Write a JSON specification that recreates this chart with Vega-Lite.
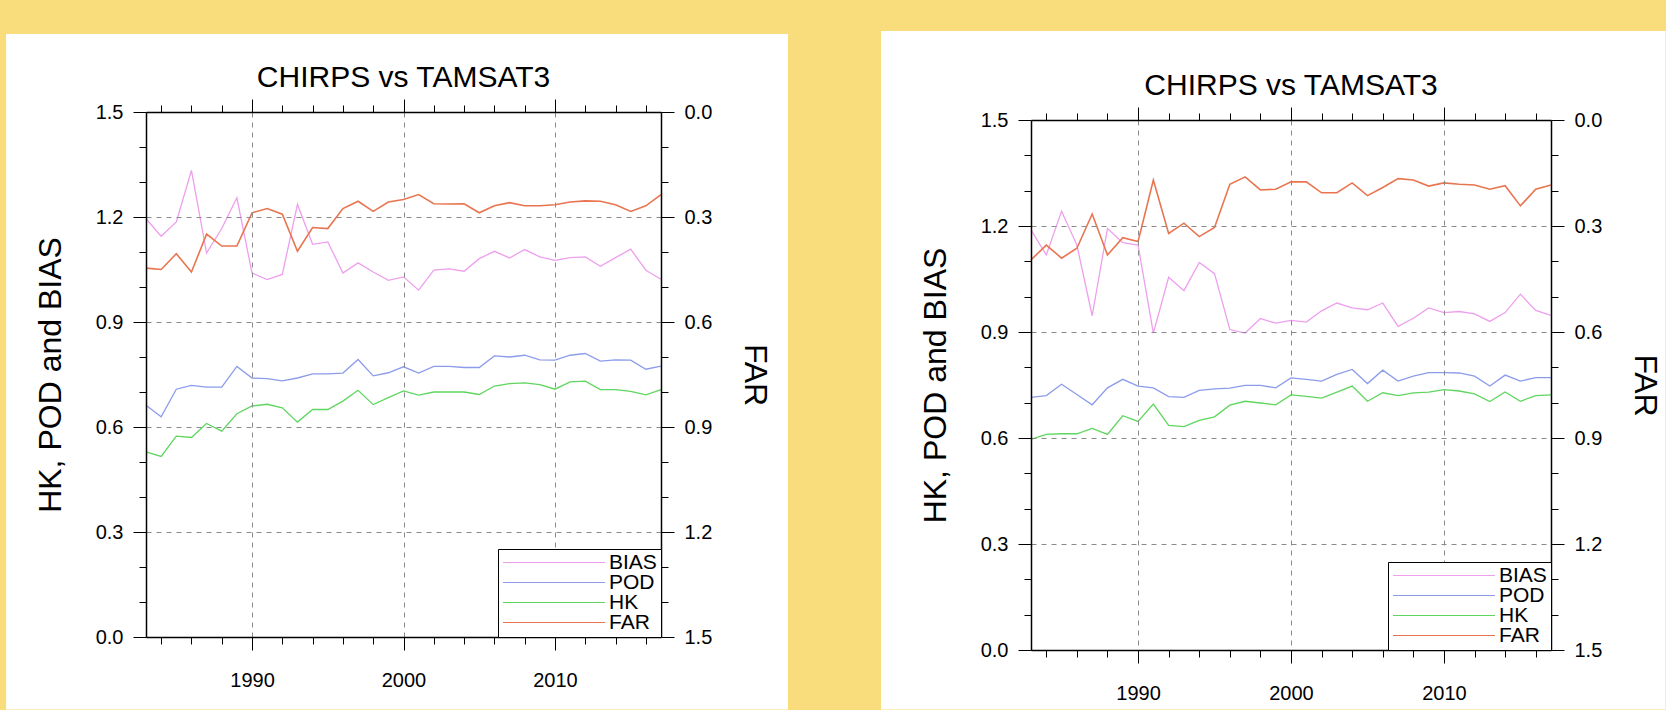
{
  "$schema": "https://vega.github.io/schema/vega-lite/v6.json",
  "background": "#F9DC7B",
  "padding": {"left": 6, "top": 31, "right": 0, "bottom": 0},
  "autosize": {"type": "pad"},
  "datasets": {
    "panel_a": [
      {"year": 1983, "BIAS": 1.195, "POD": 0.662, "HK": 0.529, "FAR": 0.446},
      {"year": 1984, "BIAS": 1.145, "POD": 0.629, "HK": 0.516, "FAR": 0.450},
      {"year": 1985, "BIAS": 1.186, "POD": 0.708, "HK": 0.574, "FAR": 0.405},
      {"year": 1986, "BIAS": 1.333, "POD": 0.719, "HK": 0.570, "FAR": 0.457},
      {"year": 1987, "BIAS": 1.097, "POD": 0.714, "HK": 0.610, "FAR": 0.349},
      {"year": 1988, "BIAS": 1.167, "POD": 0.714, "HK": 0.588, "FAR": 0.383},
      {"year": 1989, "BIAS": 1.255, "POD": 0.773, "HK": 0.638, "FAR": 0.383},
      {"year": 1990, "BIAS": 1.040, "POD": 0.740, "HK": 0.660, "FAR": 0.288},
      {"year": 1991, "BIAS": 1.021, "POD": 0.738, "HK": 0.665, "FAR": 0.276},
      {"year": 1992, "BIAS": 1.036, "POD": 0.732, "HK": 0.655, "FAR": 0.292},
      {"year": 1993, "BIAS": 1.236, "POD": 0.740, "HK": 0.614, "FAR": 0.398},
      {"year": 1994, "BIAS": 1.122, "POD": 0.752, "HK": 0.650, "FAR": 0.330},
      {"year": 1995, "BIAS": 1.129, "POD": 0.752, "HK": 0.650, "FAR": 0.333},
      {"year": 1996, "BIAS": 1.040, "POD": 0.754, "HK": 0.674, "FAR": 0.276},
      {"year": 1997, "BIAS": 1.069, "POD": 0.793, "HK": 0.705, "FAR": 0.255},
      {"year": 1998, "BIAS": 1.043, "POD": 0.746, "HK": 0.664, "FAR": 0.284},
      {"year": 1999, "BIAS": 1.019, "POD": 0.755, "HK": 0.684, "FAR": 0.257},
      {"year": 2000, "BIAS": 1.029, "POD": 0.772, "HK": 0.703, "FAR": 0.250},
      {"year": 2001, "BIAS": 0.991, "POD": 0.754, "HK": 0.691, "FAR": 0.236},
      {"year": 2002, "BIAS": 1.048, "POD": 0.773, "HK": 0.700, "FAR": 0.262},
      {"year": 2003, "BIAS": 1.052, "POD": 0.773, "HK": 0.700, "FAR": 0.263},
      {"year": 2004, "BIAS": 1.045, "POD": 0.770, "HK": 0.700, "FAR": 0.262},
      {"year": 2005, "BIAS": 1.081, "POD": 0.770, "HK": 0.693, "FAR": 0.288},
      {"year": 2006, "BIAS": 1.102, "POD": 0.803, "HK": 0.717, "FAR": 0.268},
      {"year": 2007, "BIAS": 1.083, "POD": 0.800, "HK": 0.724, "FAR": 0.259},
      {"year": 2008, "BIAS": 1.107, "POD": 0.805, "HK": 0.726, "FAR": 0.268},
      {"year": 2009, "BIAS": 1.086, "POD": 0.792, "HK": 0.721, "FAR": 0.268},
      {"year": 2010, "BIAS": 1.076, "POD": 0.791, "HK": 0.708, "FAR": 0.265},
      {"year": 2011, "BIAS": 1.084, "POD": 0.805, "HK": 0.729, "FAR": 0.257},
      {"year": 2012, "BIAS": 1.086, "POD": 0.810, "HK": 0.731, "FAR": 0.254},
      {"year": 2013, "BIAS": 1.059, "POD": 0.788, "HK": 0.707, "FAR": 0.255},
      {"year": 2014, "BIAS": 1.084, "POD": 0.792, "HK": 0.707, "FAR": 0.265},
      {"year": 2015, "BIAS": 1.108, "POD": 0.791, "HK": 0.702, "FAR": 0.284},
      {"year": 2016, "BIAS": 1.048, "POD": 0.765, "HK": 0.692, "FAR": 0.268},
      {"year": 2017, "BIAS": 1.022, "POD": 0.774, "HK": 0.707, "FAR": 0.236}
    ],
    "panel_b": [
      {"year": 1983, "BIAS": 1.189, "POD": 0.715, "HK": 0.596, "FAR": 0.396},
      {"year": 1984, "BIAS": 1.118, "POD": 0.720, "HK": 0.610, "FAR": 0.354},
      {"year": 1985, "BIAS": 1.242, "POD": 0.752, "HK": 0.612, "FAR": 0.391},
      {"year": 1986, "BIAS": 1.146, "POD": 0.723, "HK": 0.612, "FAR": 0.363},
      {"year": 1987, "BIAS": 0.946, "POD": 0.694, "HK": 0.627, "FAR": 0.266},
      {"year": 1988, "BIAS": 1.193, "POD": 0.742, "HK": 0.610, "FAR": 0.382},
      {"year": 1989, "BIAS": 1.153, "POD": 0.766, "HK": 0.663, "FAR": 0.333},
      {"year": 1990, "BIAS": 1.146, "POD": 0.747, "HK": 0.647, "FAR": 0.344},
      {"year": 1991, "BIAS": 0.897, "POD": 0.742, "HK": 0.696, "FAR": 0.170},
      {"year": 1992, "BIAS": 1.055, "POD": 0.717, "HK": 0.636, "FAR": 0.321},
      {"year": 1993, "BIAS": 1.017, "POD": 0.715, "HK": 0.632, "FAR": 0.292},
      {"year": 1994, "BIAS": 1.097, "POD": 0.735, "HK": 0.650, "FAR": 0.330},
      {"year": 1995, "BIAS": 1.065, "POD": 0.739, "HK": 0.660, "FAR": 0.304},
      {"year": 1996, "BIAS": 0.907, "POD": 0.741, "HK": 0.693, "FAR": 0.182},
      {"year": 1997, "BIAS": 0.897, "POD": 0.749, "HK": 0.704, "FAR": 0.161},
      {"year": 1998, "BIAS": 0.938, "POD": 0.749, "HK": 0.699, "FAR": 0.198},
      {"year": 1999, "BIAS": 0.925, "POD": 0.742, "HK": 0.694, "FAR": 0.196},
      {"year": 2000, "BIAS": 0.933, "POD": 0.770, "HK": 0.722, "FAR": 0.175},
      {"year": 2001, "BIAS": 0.928, "POD": 0.766, "HK": 0.718, "FAR": 0.175},
      {"year": 2002, "BIAS": 0.960, "POD": 0.761, "HK": 0.713, "FAR": 0.206},
      {"year": 2003, "BIAS": 0.982, "POD": 0.780, "HK": 0.730, "FAR": 0.206},
      {"year": 2004, "BIAS": 0.968, "POD": 0.794, "HK": 0.747, "FAR": 0.178},
      {"year": 2005, "BIAS": 0.963, "POD": 0.754, "HK": 0.704, "FAR": 0.214},
      {"year": 2006, "BIAS": 0.982, "POD": 0.792, "HK": 0.728, "FAR": 0.191},
      {"year": 2007, "BIAS": 0.916, "POD": 0.761, "HK": 0.720, "FAR": 0.166},
      {"year": 2008, "BIAS": 0.939, "POD": 0.775, "HK": 0.728, "FAR": 0.170},
      {"year": 2009, "BIAS": 0.968, "POD": 0.785, "HK": 0.730, "FAR": 0.187},
      {"year": 2010, "BIAS": 0.955, "POD": 0.785, "HK": 0.737, "FAR": 0.178},
      {"year": 2011, "BIAS": 0.958, "POD": 0.784, "HK": 0.733, "FAR": 0.182},
      {"year": 2012, "BIAS": 0.951, "POD": 0.775, "HK": 0.725, "FAR": 0.184},
      {"year": 2013, "BIAS": 0.930, "POD": 0.747, "HK": 0.703, "FAR": 0.196},
      {"year": 2014, "BIAS": 0.955, "POD": 0.778, "HK": 0.730, "FAR": 0.186},
      {"year": 2015, "BIAS": 1.007, "POD": 0.761, "HK": 0.704, "FAR": 0.243},
      {"year": 2016, "BIAS": 0.961, "POD": 0.771, "HK": 0.720, "FAR": 0.196},
      {"year": 2017, "BIAS": 0.947, "POD": 0.771, "HK": 0.722, "FAR": 0.184}
    ]
  },
  "hconcat": [
    {
      "width": 515,
      "height": 525,
      "title": {"text": "CHIRPS vs TAMSAT3", "offset": -58.75},
      "data": {"name": "panel_a"},
      "resolve": {"scale": {"y": "independent"}, "axis": {"x": "independent", "y": "independent"}},
      "layer": [
        {
          "data": {"values": [{"part": "panel"}]},
          "mark": {"type": "rect", "fill": "white"},
          "encoding": {
            "x": {"datum": 1973.7638, "type": "quantitative", "scale": {"domain": [1983, 2017], "nice": false, "zero": false}, "axis": null},
            "x2": {"datum": 2025.385},
            "y": {"datum": 1.72286, "type": "quantitative", "scale": {"domain": [0, 1.5], "nice": false, "zero": false}, "axis": null},
            "y2": {"datum": -0.20714}
          }
        },
        {
          "data": {"values": []},
          "mark": "point",
          "encoding": {
            "x": {"field": "year", "type": "quantitative", "scale": {"domain": [1983, 2017], "nice": false, "zero": false},
              "axis": {"orient": "bottom", "values": [1984, 1986, 1988, 1992, 1994, 1996, 1998, 2002, 2004, 2006, 2008, 2012, 2014, 2016], "labels": false, "domain": false, "grid": false, "tickSize": 7, "title": null, "zindex": 1}},
            "y": {"field": "value", "type": "quantitative", "scale": {"domain": [0, 1.5], "nice": false, "zero": false},
              "axis": {"orient": "left", "values": [0.1, 0.2, 0.4, 0.5, 0.7, 0.8, 1.0, 1.1, 1.3, 1.4], "labels": false, "domain": false, "grid": false, "tickSize": 7, "title": null, "zindex": 1}}
          }
        },
        {
          "data": {"values": []},
          "mark": "point",
          "encoding": {
            "x": {"field": "year", "type": "quantitative", "scale": {"domain": [1983, 2017], "nice": false, "zero": false},
              "axis": {"orient": "top", "values": [1984, 1986, 1988, 1992, 1994, 1996, 1998, 2002, 2004, 2006, 2008, 2012, 2014, 2016], "labels": false, "domain": false, "grid": false, "tickSize": 7, "title": null, "zindex": 1}},
            "y": {"field": "value", "type": "quantitative", "scale": {"domain": [0, 1.5], "nice": false, "zero": false},
              "axis": {"orient": "right", "values": [0.1, 0.2, 0.4, 0.5, 0.7, 0.8, 1.0, 1.1, 1.3, 1.4], "labels": false, "domain": false, "grid": false, "tickSize": 7, "title": null, "zindex": 1}}
          }
        },
        {
          "transform": [{"fold": ["BIAS", "POD", "HK"], "as": ["series", "value"]}],
          "mark": {"type": "line", "strokeWidth": 1.3},
          "encoding": {
            "x": {"field": "year", "type": "quantitative", "scale": {"domain": [1983, 2017], "nice": false, "zero": false},
              "axis": {"orient": "bottom", "values": [1990, 2000, 2010], "format": "d", "grid": true, "tickSize": 13, "labelPadding": 20, "title": null, "zindex": 1}},
            "y": {"field": "value", "type": "quantitative", "scale": {"domain": [0, 1.5], "nice": false, "zero": false},
              "axis": {"orient": "left", "values": [0, 0.3, 0.6, 0.9, 1.2, 1.5], "format": ".1f", "grid": true, "tickSize": 13, "labelPadding": 10, "title": "HK, POD and BIAS", "titlePadding": 28, "zindex": 1}},
            "color": {"field": "series", "type": "nominal",
              "scale": {"domain": ["BIAS", "POD", "HK", "FAR"], "range": ["#EE9FEE", "#8C9CEB", "#5FD65F", "#E97550"]},
              "legend": {"orient": "bottom-right", "offset": 0, "title": null, "symbolType": "stroke", "symbolSize": 10404, "symbolStrokeWidth": 1.2, "labelFontSize": 21, "labelOffset": 3, "rowPadding": -2.6, "padding": 4, "strokeColor": "black", "fillColor": "white", "clipHeight": 19, "zindex": 1}}
          }
        },
        {
          "transform": [{"fold": ["FAR"], "as": ["series", "value"]}],
          "mark": {"type": "line", "strokeWidth": 1.6},
          "encoding": {
            "x": {"field": "year", "type": "quantitative", "scale": {"domain": [1983, 2017], "nice": false, "zero": false},
              "axis": {"orient": "top", "values": [1990, 2000, 2010], "labels": false, "grid": false, "tickSize": 13, "title": null, "zindex": 1}},
            "y": {"field": "value", "type": "quantitative", "scale": {"domain": [0, 1.5], "nice": false, "zero": false, "reverse": true},
              "axis": {"orient": "right", "values": [0, 0.3, 0.6, 0.9, 1.2, 1.5], "format": ".1f", "grid": false, "tickSize": 13, "labelPadding": 10, "title": "FAR", "titlePadding": 26, "zindex": 1}},
            "color": {"field": "series", "type": "nominal",
              "scale": {"domain": ["BIAS", "POD", "HK", "FAR"], "range": ["#EE9FEE", "#8C9CEB", "#5FD65F", "#E97550"]},
              "legend": {"orient": "bottom-right", "offset": 0, "title": null, "symbolType": "stroke", "symbolSize": 10404, "symbolStrokeWidth": 1.2, "labelFontSize": 21, "labelOffset": 3, "rowPadding": -2.6, "padding": 4, "strokeColor": "black", "fillColor": "white", "clipHeight": 19, "zindex": 1}}
          }
        }
      ]
    },
    {
      "vconcat": [
        {
          "width": 520,
          "height": 8,
          "data": {"values": []},
          "mark": "point"
        },
        {
          "width": 520,
          "height": 530,
          "title": {"text": "CHIRPS vs TAMSAT3", "offset": -69.75},
          "data": {"name": "panel_b"},
          "resolve": {"scale": {"y": "independent"}, "axis": {"x": "independent", "y": "independent"}},
          "layer": [
            {
              "data": {"values": [{"part": "panel"}]},
              "mark": {"type": "rect", "fill": "white"},
              "encoding": {
                "x": {"datum": 1973.192, "type": "quantitative", "scale": {"domain": [1983, 2017], "nice": false, "zero": false}, "axis": null},
                "x2": {"datum": 2024.487},
                "y": {"datum": 1.7516, "type": "quantitative", "scale": {"domain": [0, 1.5], "nice": false, "zero": false}, "axis": null},
                "y2": {"datum": -0.1684}
              }
            },
            {
              "data": {"values": []},
              "mark": "point",
              "encoding": {
                "x": {"field": "year", "type": "quantitative", "scale": {"domain": [1983, 2017], "nice": false, "zero": false},
                  "axis": {"orient": "bottom", "values": [1984, 1986, 1988, 1992, 1994, 1996, 1998, 2002, 2004, 2006, 2008, 2012, 2014, 2016], "labels": false, "domain": false, "grid": false, "tickSize": 7, "title": null, "zindex": 1}},
                "y": {"field": "value", "type": "quantitative", "scale": {"domain": [0, 1.5], "nice": false, "zero": false},
                  "axis": {"orient": "left", "values": [0.1, 0.2, 0.4, 0.5, 0.7, 0.8, 1.0, 1.1, 1.3, 1.4], "labels": false, "domain": false, "grid": false, "tickSize": 7, "title": null, "zindex": 1}}
              }
            },
            {
              "data": {"values": []},
              "mark": "point",
              "encoding": {
                "x": {"field": "year", "type": "quantitative", "scale": {"domain": [1983, 2017], "nice": false, "zero": false},
                  "axis": {"orient": "top", "values": [1984, 1986, 1988, 1992, 1994, 1996, 1998, 2002, 2004, 2006, 2008, 2012, 2014, 2016], "labels": false, "domain": false, "grid": false, "tickSize": 7, "title": null, "zindex": 1}},
                "y": {"field": "value", "type": "quantitative", "scale": {"domain": [0, 1.5], "nice": false, "zero": false},
                  "axis": {"orient": "right", "values": [0.1, 0.2, 0.4, 0.5, 0.7, 0.8, 1.0, 1.1, 1.3, 1.4], "labels": false, "domain": false, "grid": false, "tickSize": 7, "title": null, "zindex": 1}}
              }
            },
            {
              "transform": [{"fold": ["BIAS", "POD", "HK"], "as": ["series", "value"]}],
              "mark": {"type": "line", "strokeWidth": 1.3},
              "encoding": {
                "x": {"field": "year", "type": "quantitative", "scale": {"domain": [1983, 2017], "nice": false, "zero": false},
                  "axis": {"orient": "bottom", "values": [1990, 2000, 2010], "format": "d", "grid": true, "tickSize": 13, "labelPadding": 20, "title": null, "zindex": 1}},
                "y": {"field": "value", "type": "quantitative", "scale": {"domain": [0, 1.5], "nice": false, "zero": false},
                  "axis": {"orient": "left", "values": [0, 0.3, 0.6, 0.9, 1.2, 1.5], "format": ".1f", "grid": true, "tickSize": 13, "labelPadding": 10, "title": "HK, POD and BIAS", "titlePadding": 28, "zindex": 1}},
                "color": {"field": "series", "type": "nominal",
                  "scale": {"domain": ["BIAS", "POD", "HK", "FAR"], "range": ["#EE9FEE", "#8C9CEB", "#5FD65F", "#E97550"]},
                  "legend": {"orient": "bottom-right", "offset": 0, "title": null, "symbolType": "stroke", "symbolSize": 10404, "symbolStrokeWidth": 1.2, "labelFontSize": 21, "labelOffset": 3, "rowPadding": -2.6, "padding": 4, "strokeColor": "black", "fillColor": "white", "clipHeight": 19, "zindex": 1}}
              }
            },
            {
              "transform": [{"fold": ["FAR"], "as": ["series", "value"]}],
              "mark": {"type": "line", "strokeWidth": 1.6},
              "encoding": {
                "x": {"field": "year", "type": "quantitative", "scale": {"domain": [1983, 2017], "nice": false, "zero": false},
                  "axis": {"orient": "top", "values": [1990, 2000, 2010], "labels": false, "grid": false, "tickSize": 13, "title": null, "zindex": 1}},
                "y": {"field": "value", "type": "quantitative", "scale": {"domain": [0, 1.5], "nice": false, "zero": false, "reverse": true},
                  "axis": {"orient": "right", "values": [0, 0.3, 0.6, 0.9, 1.2, 1.5], "format": ".1f", "grid": false, "tickSize": 13, "labelPadding": 10, "title": "FAR", "titlePadding": 26, "zindex": 1}},
                "color": {"field": "series", "type": "nominal",
                  "scale": {"domain": ["BIAS", "POD", "HK", "FAR"], "range": ["#EE9FEE", "#8C9CEB", "#5FD65F", "#E97550"]},
                  "legend": {"orient": "bottom-right", "offset": 0, "title": null, "symbolType": "stroke", "symbolSize": 10404, "symbolStrokeWidth": 1.2, "labelFontSize": 21, "labelOffset": 3, "rowPadding": -2.6, "padding": 4, "strokeColor": "black", "fillColor": "white", "clipHeight": 19, "zindex": 1}}
              }
            }
          ]
        }
      ],
      "spacing": 0,
      "bounds": "flush",
      "resolve": {"legend": {"color": "independent"}}
    }
  ],
  "spacing": 370,
  "bounds": "flush",
  "resolve": {"scale": {"color": "independent"}, "legend": {"color": "independent"}},
  "config": {
    "font": "Liberation Sans",
    "view": {"stroke": null},
    "axis": {
      "labelFont": "Liberation Sans",
      "labelFontSize": 20,
      "labelColor": "black",
      "titleFont": "Liberation Sans",
      "titleFontSize": 32,
      "titleFontWeight": "normal",
      "titleColor": "black",
      "tickColor": "black",
      "tickWidth": 1,
      "domainColor": "black",
      "domainWidth": 1.5,
      "gridColor": "#8a8a8a",
      "gridDash": [5, 5],
      "gridWidth": 1
    },
    "legend": {"labelFont": "Liberation Sans", "labelColor": "black"},
    "title": {"font": "Liberation Sans", "fontSize": 30, "fontWeight": "normal", "color": "black", "anchor": "middle", "zindex": 1}
  }
}
